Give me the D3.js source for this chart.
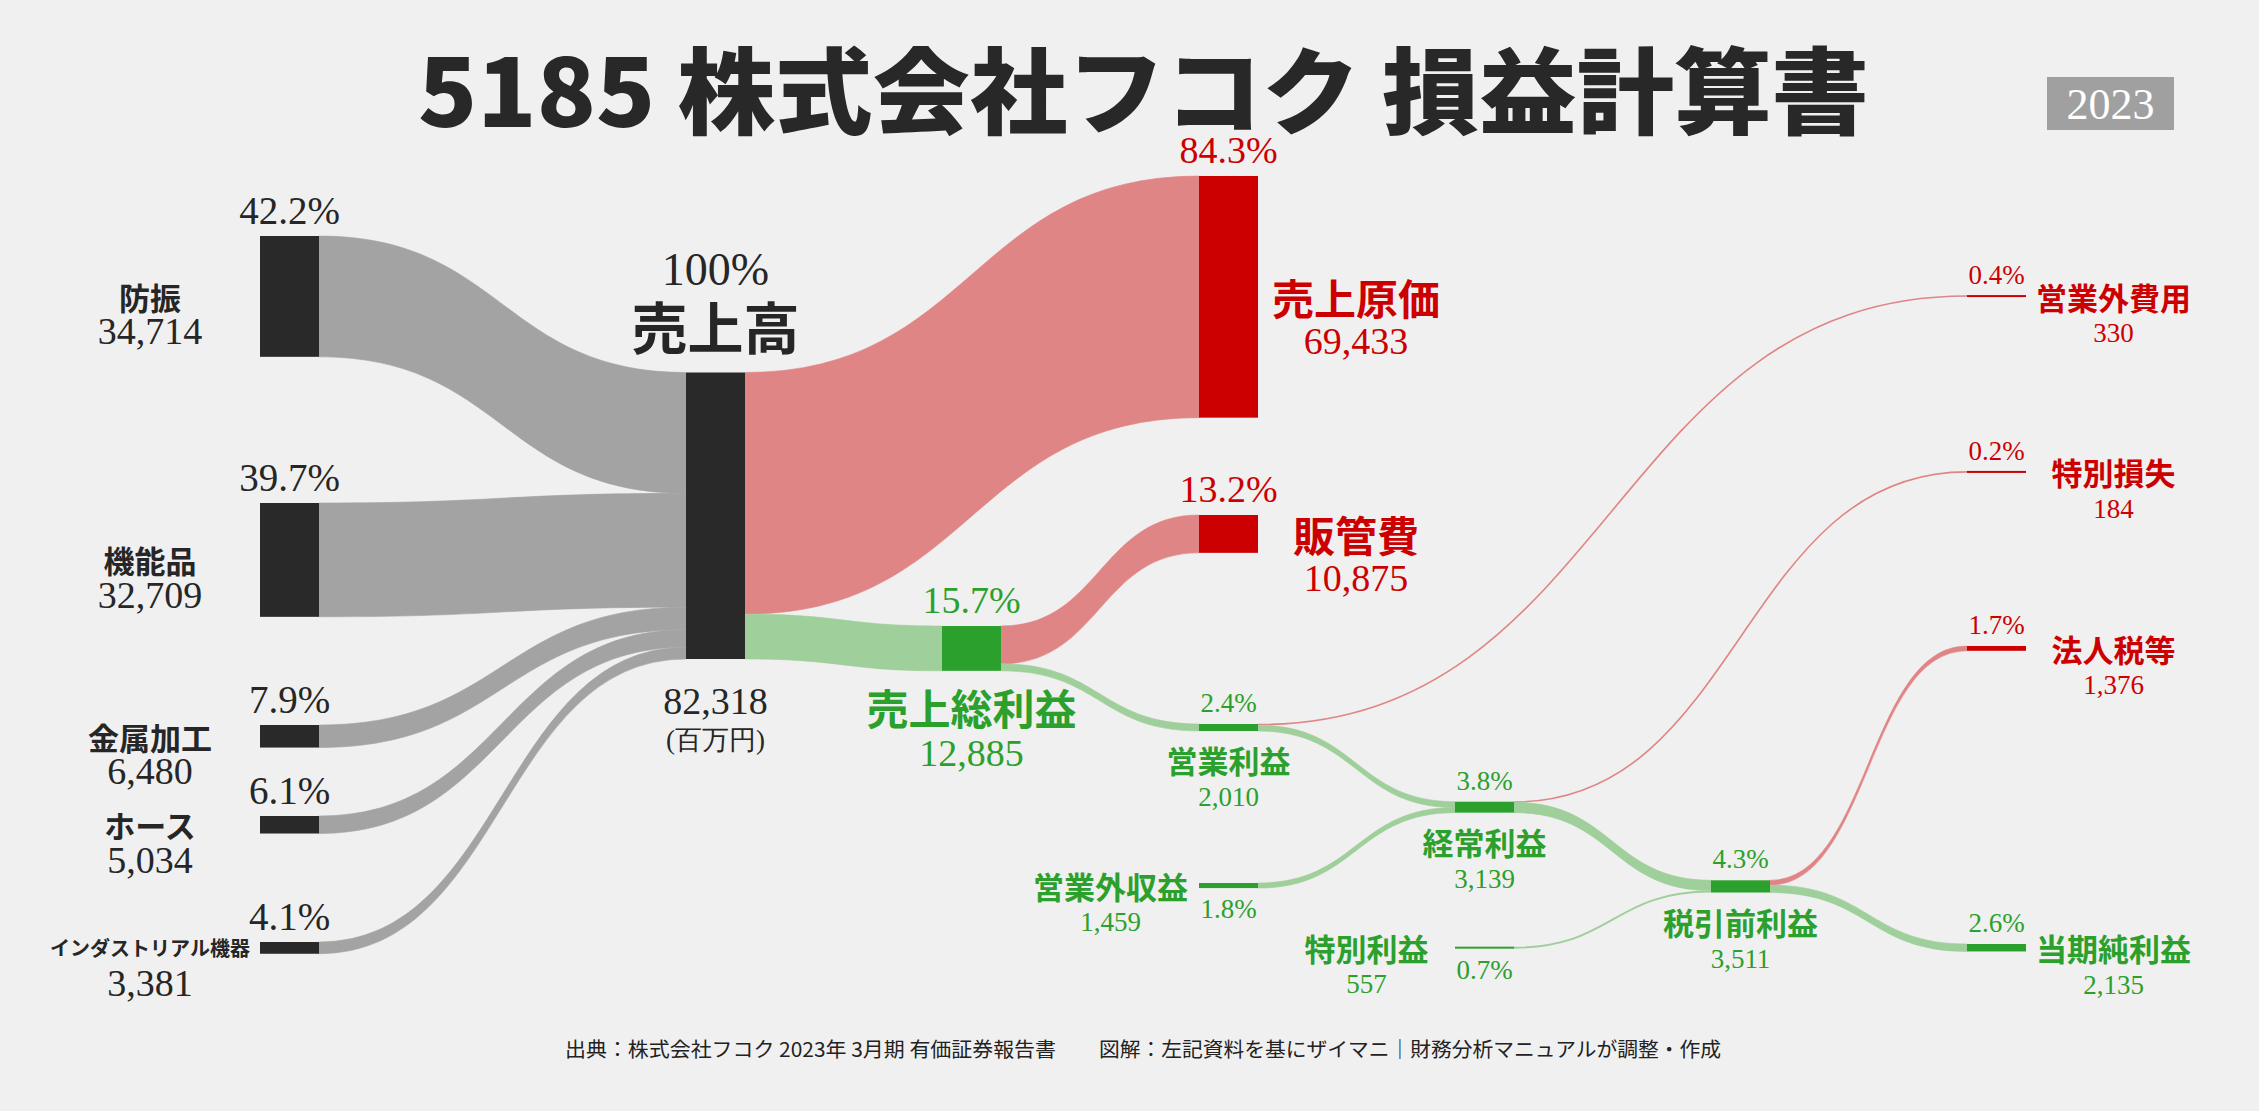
<!DOCTYPE html>
<html><head><meta charset="utf-8">
<script src="https://cdn.jsdelivr.net/npm/d3@7"></script>
<style>
html,body{margin:0;padding:0;background:#f0f0f0;}
svg{display:block;}
</style></head><body>
<svg id="chart" width="2259" height="1111"></svg>
<script>
// ---------------- data ----------------
const nodeIds = ["防振","機能品","金属加工","ホース","インダストリアル機器","売上高","売上原価","売上総利益","販管費","営業利益","営業外収益","営業外費用","経常利益","特別利益","特別損失","税引前利益","法人税等","当期純利益"];
const nodeValues = [34714,32709,6480,5034,3381,82318,69433,12885,10875,2010,1459,330,3139,557,184,3511,1376,2135];
const nodeKinds = ["rev","rev","rev","rev","rev","rev","cost","profit","cost","profit","profit","cost","profit","profit","cost","profit","cost","profit"];
const linkSources = ["防振","機能品","金属加工","ホース","インダストリアル機器","売上高","売上高","売上総利益","売上総利益","営業利益","営業利益","営業外収益","経常利益","経常利益","特別利益","税引前利益","税引前利益"];
const linkTargets = ["売上高","売上高","売上高","売上高","売上高","売上原価","売上総利益","販管費","営業利益","営業外費用","経常利益","経常利益","特別損失","税引前利益","税引前利益","法人税等","当期純利益"];
const linkValues = [34714,32709,6480,5034,3381,69433,12885,10875,2010,330,1680,1459,184,2955,557,1376,2135];
const revenueTotal = 82318;
const titleText = "5185 株式会社フコク 損益計算書";
const yearText = "2023";
const unitText = "(百万円)";
const sourceNote = "出典：株式会社フコク 2023年 3月期 有価証券報告書";
const creditNote = "図解：左記資料を基にザイマニ｜財務分析マニュアルが調整・作成";

// ---------------- layout (positions / styles) ----------------
const colX = [260, 686, 942, 1199, 1455, 1711, 1967];
const nodeCol = [0,0,0,0,0,1,3,2,3,3,3,6,4,4,6,5,6,6];
const nodeTop = [236,503,725,816,942,372.5,176,626,515,724,883,295.5,801.7,946.7,471.6,880.3,646,944];
const labelStyle = ["seg","seg","seg","seg","segS","main","bigR","bigB","bigR","smB","smL","smR","smB","smL","smR","smB","smR","smR"];
const nodeWidth = 59;
const colors = {
  node: {rev:"#292929", cost:"#cc0000", profit:"#2ca02c"},
  text: {rev:"#262626", cost:"#cc0000", profit:"#2ca02c"},
  linkRev:"#a3a3a3", linkCost:"#e08585", linkProfit:"#9fcf9b"
};
const serif = "'Liberation Serif','Times New Roman',serif";
const gothic = "'Noto Sans CJK JP','Noto Sans',sans-serif";

const svg = d3.select("#chart");
svg.append("rect").attr("width",2259).attr("height",1111).attr("fill","#f0f0f0");

const vScale = d3.scaleLinear().domain([0, revenueTotal]).range([0, 286.5]);
const fmtNum = d3.format(",");
const fmtPct = v => v >= revenueTotal ? "100%" : d3.format(".1f")(v / revenueTotal * 100) + "%";

// build nodes
const nodes = nodeIds.map((id, i) => {
  const h = vScale(nodeValues[i]);
  const x0 = colX[nodeCol[i]];
  return {id, i, value:nodeValues[i], kind:nodeKinds[i], x0, x1:x0+nodeWidth,
          y0:nodeTop[i], y1:nodeTop[i]+h, h, outOff:0, inOff:0, style:labelStyle[i]};
});
const byId = new Map(nodes.map(n => [n.id, n]));

const links = linkSources.map((s, i) => {
  const src = byId.get(s), tgt = byId.get(linkTargets[i]);
  const w = vScale(linkValues[i]);
  const sy0 = src.y0 + src.outOff; src.outOff += w;
  const ty0 = tgt.y0 + tgt.inOff; tgt.inOff += w;
  let color = colors.linkProfit;
  if (src.kind === "rev" && tgt.id === "売上高") color = colors.linkRev;
  else if (tgt.kind === "cost") color = colors.linkCost;
  return {src, tgt, w, sy0, ty0, color};
});

// draw links
const gLinks = svg.append("g");
links.forEach(l => {
  const x0 = l.src.x1, x1 = l.tgt.x0, xm = (x0 + x1) / 2;
  if (l.w >= 2) {
    const p = d3.path();
    p.moveTo(x0, l.sy0);
    p.bezierCurveTo(xm, l.sy0, xm, l.ty0, x1, l.ty0);
    p.lineTo(x1, l.ty0 + l.w);
    p.bezierCurveTo(xm, l.ty0 + l.w, xm, l.sy0 + l.w, x0, l.sy0 + l.w);
    p.closePath();
    gLinks.append("path").attr("d", p.toString()).attr("fill", l.color)
      .attr("stroke", l.color).attr("stroke-width", 0.6);
  } else {
    const a = l.sy0 + l.w / 2, b = l.ty0 + l.w / 2;
    const p = d3.path();
    p.moveTo(x0, a);
    p.bezierCurveTo(xm, a, xm, b, x1, b);
    gLinks.append("path").attr("d", p.toString()).attr("fill", "none")
      .attr("stroke", l.color).attr("stroke-width", Math.max(l.w, 1.6));
  }
});

// draw nodes
const gNodes = svg.append("g");
nodes.forEach(n => {
  const h = Math.max(n.h, 2);
  const cy = (n.y0 + n.y1) / 2;
  gNodes.append("rect").attr("x", n.x0).attr("y", cy - h / 2)
    .attr("width", nodeWidth).attr("height", h).attr("fill", colors.node[n.kind]);
});

// labels
const gLab = svg.append("g");
function txt(x, y, s, size, fam, col, opts = {}) {
  const t = gLab.append("text").attr("x", x).attr("y", y).text(s)
    .attr("font-size", size).attr("font-family", fam).attr("fill", col)
    .attr("text-anchor", opts.anchor || "middle");
  if (opts.bold) t.attr("font-weight", 700);
  if (opts.central) t.attr("dominant-baseline", "central");
  return t;
}
nodes.forEach(n => {
  const cx = (n.x0 + n.x1) / 2, cy = (n.y0 + n.y1) / 2;
  const col = colors.text[n.kind];
  const num = fmtNum(n.value), pct = fmtPct(n.value);
  switch (n.style) {
    case "seg":
    case "segS":
      txt(150, cy, n.id, n.style === "segS" ? 20 : 31, gothic, col, {bold:true, central:true});
      txt(150, cy + 48, num, 38, serif, col);
      txt(cx, n.y0 - 12, pct, 39, serif, col);
      break;
    case "main":
      txt(cx, n.y0 - 87.5, pct, 46, serif, col);
      txt(cx, n.y0 - 23.5, n.id, 56, gothic, col, {bold:true});
      txt(cx, n.y1 + 55, num, 38, serif, col);
      txt(cx, n.y1 + 90, unitText, 27, serif, col);
      break;
    case "bigR":
      txt(cx, n.y0 - 13, pct, 38, serif, col);
      txt(cx + 127.5, cy, n.id, 42, gothic, col, {bold:true, central:true});
      txt(cx + 127.5, cy + 57, num, 38, serif, col);
      break;
    case "bigB":
      txt(cx, n.y0 - 13, pct, 38, serif, col);
      txt(cx, n.y1 + 36, n.id, 42, gothic, col, {bold:true, central:true});
      txt(cx, n.y1 + 95, num, 38, serif, col);
      break;
    case "smB":
      txt(cx, n.y0 - 12, pct, 27, serif, col);
      txt(cx, n.y1 + 28.5, n.id, 31, gothic, col, {bold:true, central:true});
      txt(cx, n.y1 + 75.5, num, 27, serif, col);
      break;
    case "smL":
      txt(cx - 118, cy, n.id, 31, gothic, col, {bold:true, central:true});
      txt(cx - 118, cy + 45, num, 27, serif, col);
      txt(cx, n.y1 + 30, pct, 27, serif, col);
      break;
    case "smR":
      txt(cx + 117, cy, n.id, 31, gothic, col, {bold:true, central:true});
      txt(cx + 117, cy + 46, num, 27, serif, col);
      txt(cx, n.y0 - 12, pct, 27, serif, col);
      break;
  }
});

// title
svg.append("text").attr("x", 1143.5).attr("y", 127).text(titleText)
  .attr("text-anchor", "middle").attr("font-family", gothic).attr("font-weight", 900)
  .attr("font-size", 94).attr("fill", "#282828")
  .attr("textLength", 1451).attr("lengthAdjust", "spacingAndGlyphs");

// year badge
svg.append("rect").attr("x", 2047).attr("y", 77).attr("width", 127).attr("height", 53).attr("fill", "#a0a0a0");
svg.append("text").attr("x", 2110.5).attr("y", 119).text(yearText)
  .attr("text-anchor", "middle").attr("font-family", serif).attr("font-size", 44).attr("fill", "#ffffff");

// footer
svg.append("text").attr("x", 565).attr("y", 1057).text(sourceNote)
  .attr("font-family", gothic).attr("font-size", 20).attr("fill", "#222")
  .attr("textLength", 491).attr("lengthAdjust", "spacingAndGlyphs");
svg.append("text").attr("x", 1099).attr("y", 1057).text(creditNote)
  .attr("font-family", gothic).attr("font-size", 20).attr("fill", "#222")
  .attr("textLength", 622).attr("lengthAdjust", "spacingAndGlyphs");
</script>
</body></html>
